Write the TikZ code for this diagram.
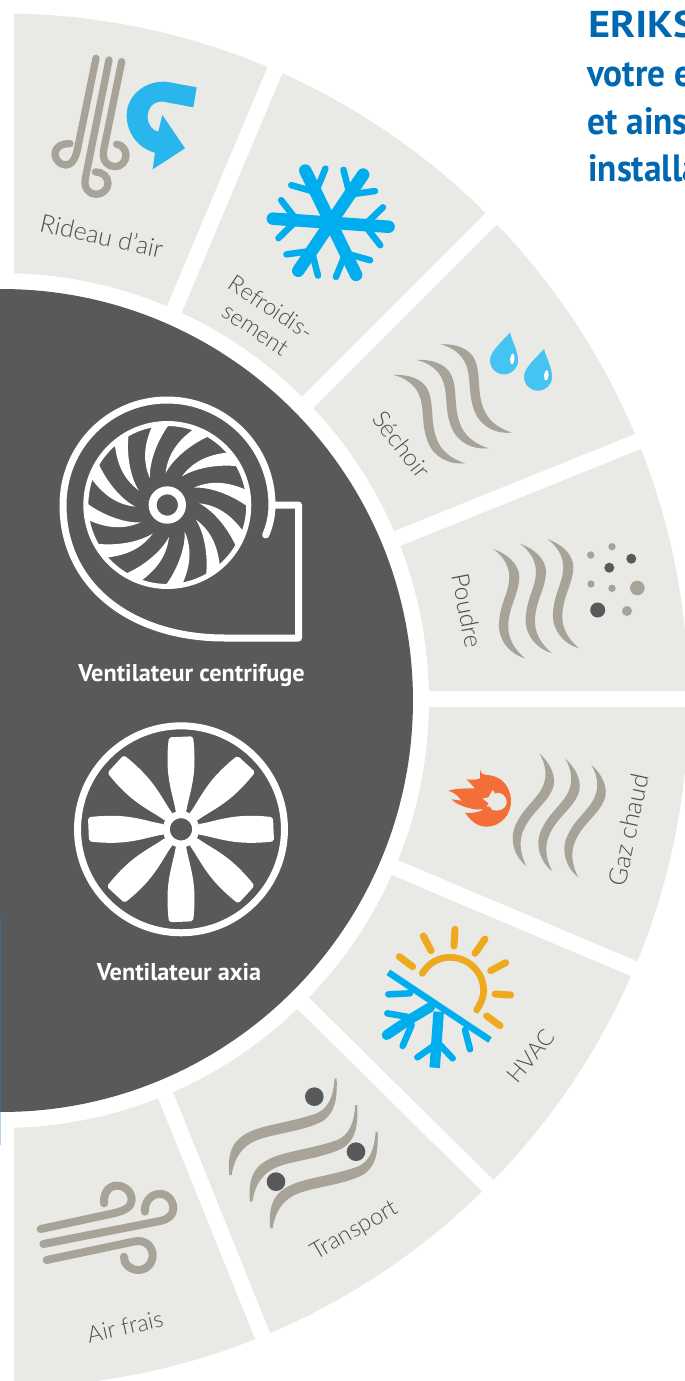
\documentclass[tikz,border=0pt]{standalone}
\usepackage{fontspec}
\setmainfont{Liberation Sans}
\newfontfamily\lightf{Lato Light}
\newfontfamily\boldf{PT Sans}
\newfontfamily\headwide[FakeStretch=1.12]{PT Sans}
\newfontfamily\headnarrow[FakeStretch=0.93]{PT Sans}
\definecolor{sectorc}{HTML}{E9E9E5}
\definecolor{darkc}{HTML}{58595B}
\definecolor{grayc}{HTML}{A7A398}
\definecolor{skyc}{HTML}{29B6EC}
\definecolor{flakec}{HTML}{00AEEF}
\definecolor{dropc}{HTML}{45C4F2}
\definecolor{sunc}{HTML}{EEA91E}
\definecolor{flamec}{HTML}{F36F37}
\definecolor{textc}{HTML}{4D4E50}
\definecolor{headc}{HTML}{0067B1}
\definecolor{stripea}{HTML}{3F6A8A}
\definecolor{stripeb}{HTML}{B5D5EA}
\tikzset{
  lw/.style={line width=#1*0.75pt},
  sectorlabel/.style={font=\lightf\fontsize{#1pt}{18pt}\selectfont,text=textc,inner sep=0pt},
  sectorlabel/.default=18.8,
  fanlabel/.style={font=\boldf\bfseries\fontsize{18.2pt}{20pt}\selectfont,text=white,inner sep=0pt,anchor=base},
  headline/.style={font=\headnarrow\bfseries\fontsize{28.5pt}{30pt}\selectfont,text=headc,inner sep=0pt,anchor=base west},
  headcaps/.style={font=\headwide\bfseries\fontsize{28pt}{30pt}\selectfont,text=headc,inner sep=0pt,anchor=base west},
  gapline/.style={draw=white,lw=16},
  curl/.style={draw=grayc,lw=7.3,line cap=round,line join=round},
  zoomA/.style={shift={(0,0)},scale=1/3},
  zoomP/.style={shift={(360,320)},scale=1/3},
  zoomG/.style={shift={(360,720)},scale=1/3},
  zoomT/.style={shift={(0,1060)},scale=1/3},
}
\newcommand\gwave[3]{\fill[grayc,shift={(#1,#2)},rotate=#3,scale=1/3] (0,0) .. controls (42,15) and (78,45) .. (78,85) .. controls (78,130) and (48,170) .. (45,225) .. controls (42,265) and (62,300) .. (95,328) .. controls (50,315) and (15,275) .. (17,225) .. controls (19,165) and (48,130) .. (48,85) .. controls (48,50) and (28,20) .. (0,0) -- cycle;}
\newcommand\twave[2]{\fill[grayc,shift={(#1,#2)}] (688,345) .. controls (680,270) and (705,235) .. (750,215) .. controls (790,195) and (880,185) .. (950,160) .. controls (985,145) and (1000,110) .. (1004,55) -- (1010,55) .. controls (1012,120) and (1005,160) .. (965,185) .. controls (900,218) and (800,222) .. (755,248) .. controls (720,268) and (702,300) .. (695,345) -- cycle;}
\begin{document}
\begin{tikzpicture}[x=0.75pt,y=-0.75pt]
\useasboundingbox (0,0) rectangle (685,1381);
\clip (0,0) rectangle (685,1381);
\fill[white] (0,0) rectangle (685,1381);
% left stripe
\fill[stripeb] (0,1112) rectangle (1.2,1145);
% ring
\begin{scope}
\clip (14,0) rectangle (685,1381);
\fill[sectorc,even odd rule] (1.5,700.5) circle[radius=515.25pt] (1.5,700.5) circle[radius=320.6pt];
\end{scope}
% gaps
\coordinate (g1a) at (168.7,322.8); \coordinate (g1b) at (280.8,56.2);
\coordinate (g2a) at (300,410); \coordinate (g2b) at (499,211);
\coordinate (g3a) at (382.8,544.3); \coordinate (g3b) at (651.4,436.1);
\coordinate (g4a) at (415,699); \coordinate (g4b) at (690,699);
\coordinate (g5a) at (380.9,861.7); \coordinate (g5b) at (646.8,974.1);
\coordinate (g6a) at (292.6,992.8); \coordinate (g6b) at (497.7,1195.5);
\coordinate (g7a) at (160.2,1081.9); \coordinate (g7b) at (267.8,1348.9);
\foreach \i in {1,...,7} \draw[gapline] (g\i a) -- (g\i b);
% dark disc
\fill[darkc] (1.5,700.5) circle[radius=308.6pt];
\fill[stripea] (0,918) rectangle (1.2,1112);
% top text
\node[headcaps] (h1) at (588,37.3) {ERIKS};
\node[headline] (h2) at (587,86) {votre e};
\node[headline] (h3) at (587,134) {et ains};
\node[headline] (h4) at (588,181.7) {installa};
% Rideau d'air
\begin{scope}[zoomA]
\draw[curl] (288,175) -- (234,440) .. controls (228,475) and (215,495) .. (198,495) .. controls (180,495) and (165,480) .. (165,462) .. controls (165,445) and (180,430) .. (210,431);
\draw[curl] (327,180) -- (256,535) .. controls (250,565) and (268,583) .. (288,583) .. controls (308,583) and (324,568) .. (324,550) .. controls (324,530) and (308,516) .. (286,516);
\draw[curl] (365,185) -- (311,450) .. controls (305,485) and (325,500) .. (345,500) .. controls (365,500) and (378,483) .. (378,466) .. controls (378,448) and (365,434) .. (350,433);
\fill[skyc] (590,262) -- (580,322) -- (490,305) .. controls (460,302) and (443,325) .. (443,350) .. controls (443,375) and (458,392) .. (475,395) -- (487,345) -- (555,445) -- (458,508) -- (465,458) .. controls (415,445) and (380,400) .. (380,345) .. controls (380,290) and (430,245) .. (490,245) .. controls (500,245) and (510,247) .. (520,249) -- cycle;
\end{scope}
\node[sectorlabel,rotate=-12.5] (rideau) at (101.7,235.7) {Rideau d’air};
% Refroidissement snowflake
\foreach \a in {-4,56,116,176,236,296}{
  \begin{scope}[shift={(330.7,222.7)},rotate=\a]
  \draw[flakec,lw=12.5,line cap=round] (0,0) -- (58,0);
  \draw[flakec,lw=6.5,line cap=round] (34,0) -- (51,19);
  \draw[flakec,lw=6.5,line cap=round] (34,0) -- (51,-19);
  \end{scope}
}
\node[sectorlabel=17.5,rotate=-33.7,anchor=base west] (refroid) at (226.7,287.7) {Refroidis-};
\node[sectorlabel=17.5,rotate=-33.7,anchor=base west] (refroidb) at (220.5,315.5) {sement};
% Sechoir
\gwave{393.3}{375}{23}
\gwave{416.7}{360}{23}
\gwave{440}{344.3}{23}
\begin{scope}[zoomP]
\foreach \dx/\dy in {0/0,102/49}{
 \begin{scope}[shift={(\dx,\dy)}]
 \fill[dropc] (450,38) .. controls (455,60) and (475,95) .. (474,122) .. controls (474,145) and (455,163) .. (432,163) .. controls (408,163) and (390,145) .. (390,120) .. controls (390,95) and (430,60) .. (450,38) -- cycle;
 \fill[white,rotate around={-5:(457,117)}] (457,117) ellipse[x radius=5pt,y radius=12pt];
 \end{scope}
}
\end{scope}
\node[sectorlabel=18,rotate=-52] (sechoir) at (401.5,444.5) {Séchoir};
% Poudre
\gwave{493.3}{549}{0}
\gwave{520}{543.7}{0}
\gwave{547.3}{539}{0}
\foreach \x/\y/\r in {590.7/555/3.7,612/546.7/3.7,591/584/3.7,612/588.3/3.7,637.3/588/7.3,627/611/5}
  \fill[grayc] (\x,\y) circle[radius=\r*0.75pt];
\foreach \x/\y/\r in {631.3/558.7/5,609.3/567.7/5,597.7/610/7.5}
  \fill[darkc] (\x,\y) circle[radius=\r*0.75pt];
\node[sectorlabel=18.4,rotate=-79] (poudre) at (467.3,610.7) {Poudre};
% Gaz chaud
\gwave{539.3}{753.3}{-22.6}
\gwave{565}{758.3}{-22.6}
\gwave{591}{764.3}{-22.6}
\begin{scope}[zoomG]
\fill[flamec] (265,212) .. controls (290,205) and (315,205) .. (345,205) -- (320,178) .. controls (335,180) and (350,180) .. (360,175) -- (360,148) .. controls (362,160) and (370,165) .. (378,165) .. controls (415,165) and (450,190) .. (453,240) .. controls (455,285) and (420,320) .. (380,320) .. controls (350,320) and (330,300) .. (315,278) .. controls (335,280) and (355,278) .. (372,268) -- (345,268) .. controls (310,262) and (285,250) .. (275,238) -- (305,242) .. controls (295,230) and (285,218) .. (265,212) -- cycle;
\fill[sectorc] (368,236) -- (385,232) -- (398,210) -- (405,220) .. controls (423,214) and (441,227) .. (440,250) .. controls (437,268) and (415,276) .. (397,270) -- (390,260) -- (380,260) -- (386,250) -- cycle;
% HVAC sun
\draw[sunc,lw=6.7,line cap=round] (187,760) .. controls (205,730) and (235,712) .. (270,712) .. controls (325,712) and (371,757) .. (371,812) .. controls (371,832) and (362,852) .. (350,870);
\foreach \ax/\ay/\bx/\by in {118/710/158/740,190/648/213/692,285/628/282/678,375/657/345/700,437/728/392/752,452/825/405/822,380/888/420/917}
  \draw[sunc,lw=7,line cap=round] (\ax,\ay) -- (\bx,\by);
% HVAC snow
\draw[flakec,lw=6.5] (85,757) -- (390,960);
\draw[flakec,lw=10.5] (236,875) -- (224,1043);
\draw[flakec,lw=10,line cap=round] (210,862) -- (150,898) -- (80,945);
\draw[flakec,lw=6.5,line cap=round] (225,975) -- (172,1012);
\draw[flakec,lw=6.5,line cap=round] (228,962) -- (278,1015);
\draw[flakec,lw=6.5,line cap=round] (140,890) -- (82,880);
\draw[flakec,lw=6.5,line cap=round] (155,915) -- (128,978);
\draw[flakec,lw=6.5,line cap=round] (150,820) -- (85,823);
\draw[flakec,lw=6.5,line cap=round] (315,930) -- (330,988);
\end{scope}
\node[sectorlabel,rotate=78] (gaz) at (628.3,830) {Gaz chaud};
\node[sectorlabel=17,rotate=50] (hvac) at (531,1056) {HVAC};
% Transport
\begin{scope}[zoomT]
\twave{0}{0}
\twave{62}{80}
\twave{123}{160}
\foreach \x/\y in {943/110,1068/275,828/365}
  \fill[darkc] (\x,\y) circle[radius=21pt];
% Air frais
\draw[curl,lw=8] (122,507) -- (340,460) .. controls (375,452) and (395,440) .. (395,420) .. controls (395,395) and (375,377) .. (350,377) .. controls (325,377) and (310,400) .. (312,430);
\draw[curl,lw=8] (130,552) -- (480,483) .. controls (505,478) and (520,465) .. (520,445) .. controls (520,420) and (500,400) .. (478,402) .. controls (450,402) and (432,430) .. (435,455);
\draw[curl,lw=8] (140,600) -- (400,545) .. controls (440,535) and (458,565) .. (458,585) .. controls (458,610) and (440,630) .. (415,630) .. controls (390,630) and (370,610) .. (372,590);
\end{scope}
\node[sectorlabel=17.7,rotate=30] (transport) at (355,1231) {Transport};
\node[sectorlabel=17.4,rotate=12.5] (airfrais) at (125,1326.7) {Air frais};
% centrifugal fan
\draw[white,lw=7,line cap=round,line join=round] (265.7,535) .. controls (270,525) and (272,515) .. (272,505) .. controls (272,447) and (225,400) .. (167,400) .. controls (109,400) and (63,447) .. (63,505) .. controls (63,585) and (130,638) .. (225,638) -- (298.5,638) -- (298.5,505) -- (272,505);
\draw[white,lw=5] (167.3,505) circle[radius=61.1pt];
\draw[white,lw=8] (167.3,505) circle[radius=11pt];
\foreach \k in {0,...,11}{
 \fill[white,shift={(167.3,505)},rotate=153+30*\k] (32,0) .. controls (50,3) and (63,13) .. (74.2,30) -- (66.3,44.7) .. controls (60,28) and (47,9) .. (32,0) -- cycle;
}
\node[fanlabel] (centrifuge) at (191.5,681.7) {Ventilateur centrifuge};
% axial fan
\draw[white,lw=7] (181,829.3) circle[radius=77.6pt];
\draw[white,lw=7] (181,829.3) circle[radius=11pt];
\foreach \k in {0,45,...,315}{
 \fill[white,shift={(181,829.3)},rotate=\k,rounded corners=1.5pt] (16,-5) .. controls (30,-7) and (45,-13) .. (68,-13.5) .. controls (78,-13.5) and (85,-13) .. (92,-12) -- (93,12) .. controls (85,13) and (78,13.5) .. (68,13.5) .. controls (45,13) and (30,7) .. (16,5) -- cycle;
}
\node[fanlabel] (axia) at (179,980) {Ventilateur axia};
\end{tikzpicture}
\end{document}
